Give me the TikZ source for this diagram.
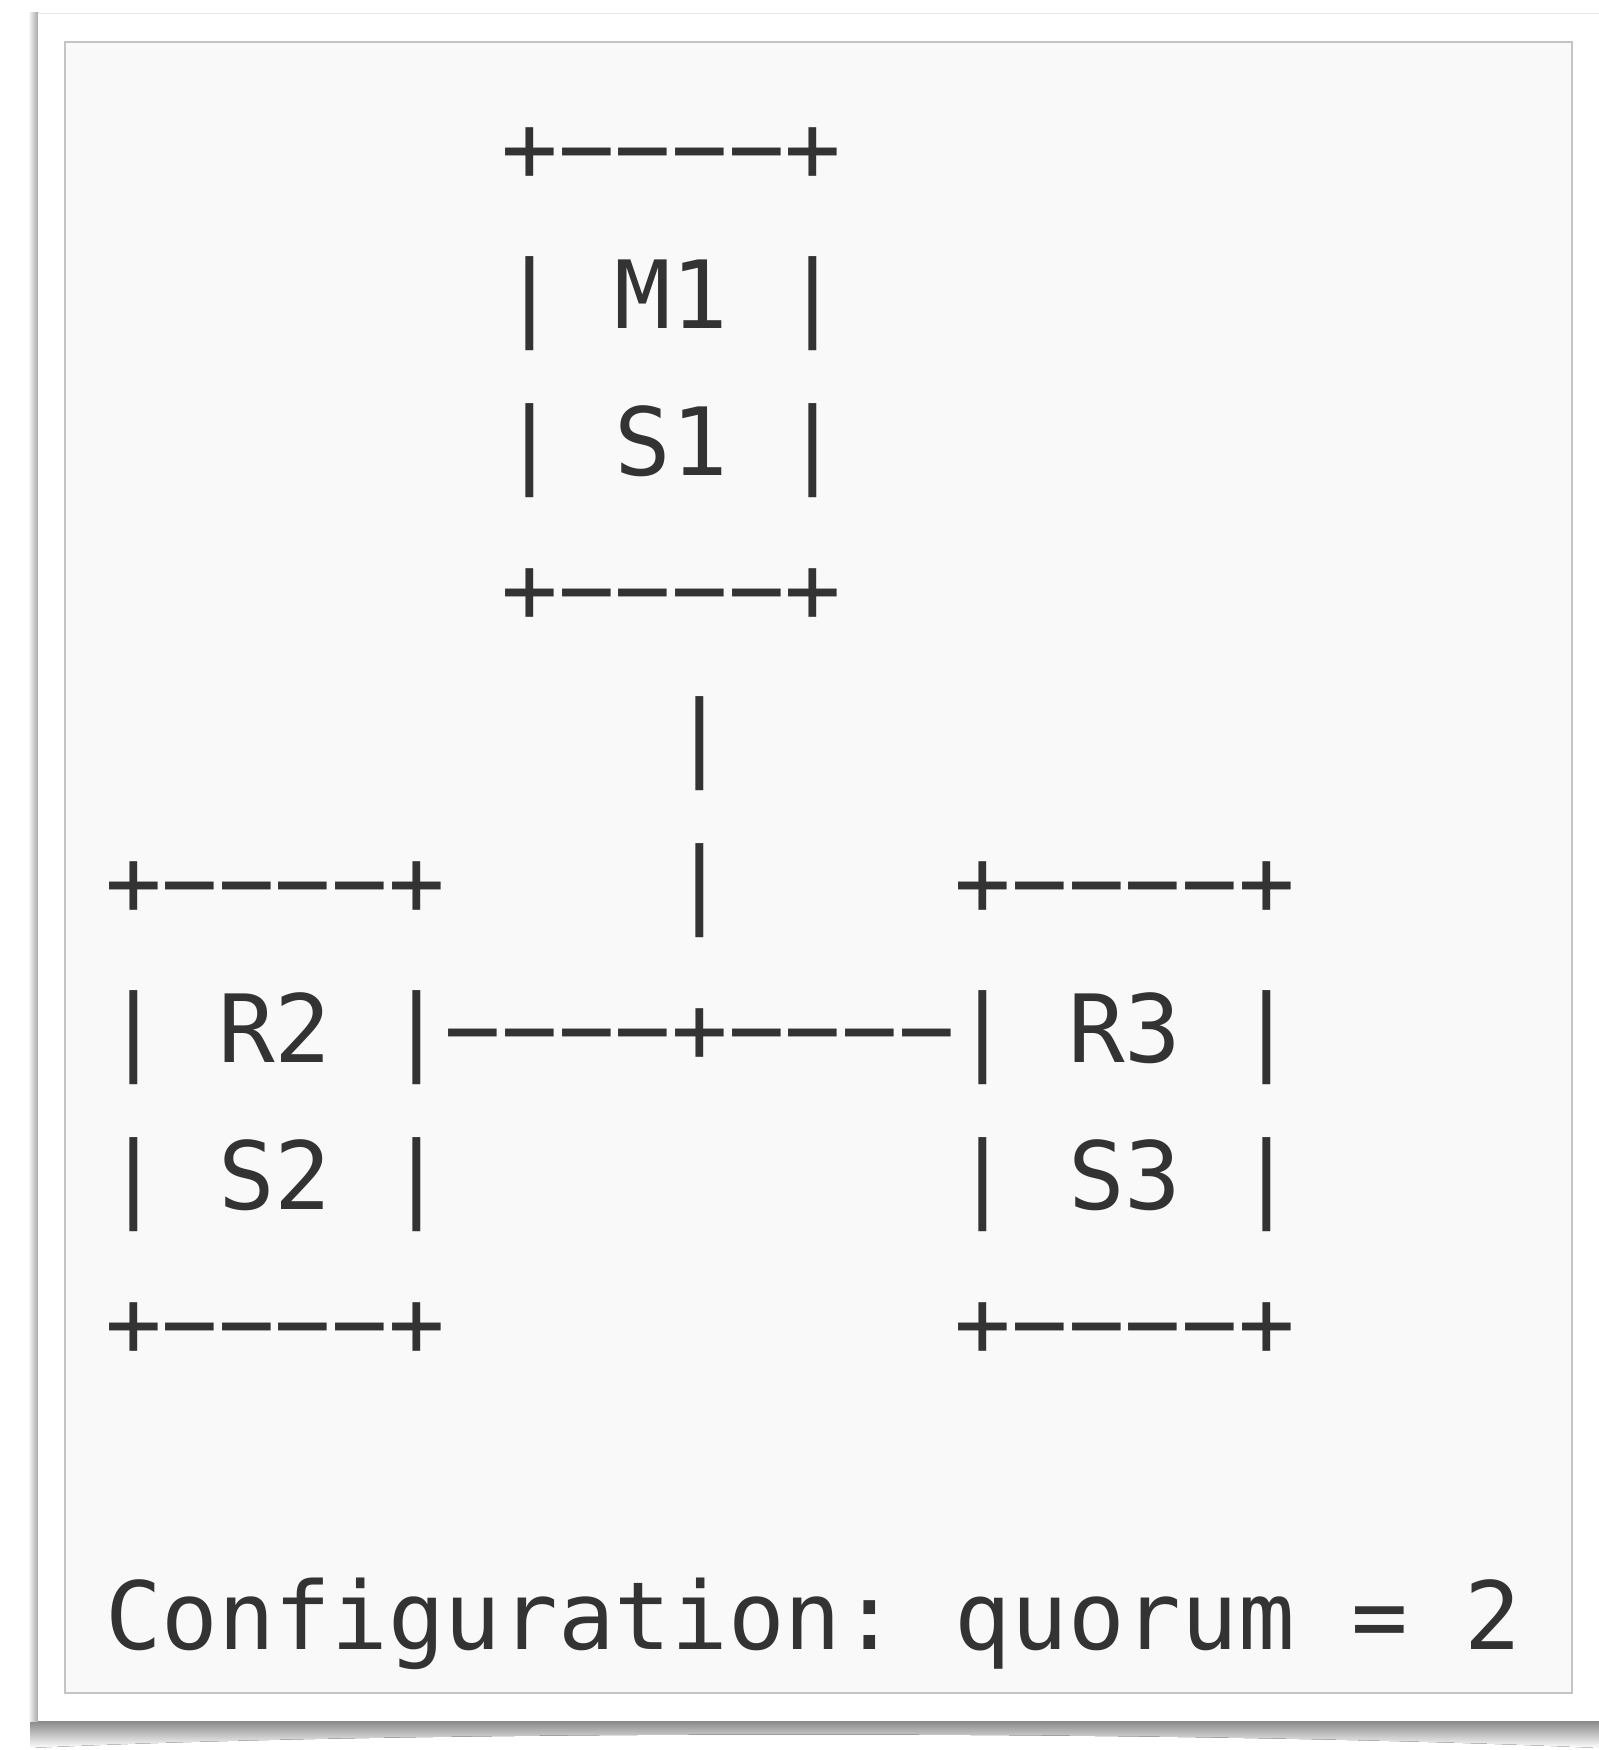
\documentclass[tikz,border=0pt]{standalone}
\usepackage{fontspec}
\setmonofont{DejaVu Sans Mono}
\usepackage{xcolor}
\definecolor{ink}{HTML}{333333}
\definecolor{panel}{HTML}{F9F9F9}
\definecolor{rim}{HTML}{C4C4C4}

\begin{document}
\begin{tikzpicture}[x=0.5pt, y=-0.5pt]
    \tikzstyle{ascii} = [inner sep = 0pt, outer sep = 0pt, anchor = base west, text = ink, font = \ttfamily\fontsize{47.06}{73.4}\selectfont]
    \tikzstyle{card}  = [fill = white]
    \tikzstyle{sheet} = [fill = panel, draw = rim, line width = 1pt]

    \useasboundingbox (0,0) rectangle (1599,1750);
    % Draw the card with its shadow
    \fill[top color = black!55, bottom color = white] (30,1716) -- (1599,1716) -- (1599,1748) .. controls (1200,1730) and (400,1730) .. (30,1748) -- cycle;
    \fill[left color = white, right color = black!35] (28,13) rectangle (38,1721);
    \fill[card] (38,13) rectangle (1599,1721);
    \draw[black!8] (38,13) -- (1599,13);
    \draw[sheet] (65,42) rectangle (1572,1693);

    \begin{scope}[shift = {(105,181.6)}, x = 28.33pt, y = -73.4pt]
    \node[ascii] (M1top) at (7,0) {+−−−−+};
    \node[ascii] (M1mid) at (7,1) {| M1 |};
    \node[ascii] (S1mid) at (7,2) {| S1 |};
    \node[ascii] (M1bot) at (7,3) {+−−−−+};
    \node[ascii] (stemA) at (10,4) {|};
    \node[ascii] (stemB) at (10,5) {|};

    \node[ascii] (R2top) at (0,5) {+−−−−+};
    \node[ascii] (R2mid) at (0,6) {| R2 |};
    \node[ascii] (S2mid) at (0,7) {| S2 |};
    \node[ascii] (R2bot) at (0,8) {+−−−−+};

    \node[ascii] (link)  at (6,6) {−−−−+−−−−};

    \node[ascii] (R3top) at (15,5) {+−−−−+};
    \node[ascii] (R3mid) at (15,6) {| R3 |};
    \node[ascii] (S3mid) at (15,7) {| S3 |};
    \node[ascii] (R3bot) at (15,8) {+−−−−+};

    \node[ascii] (conf)  at (0,10) {Configuration: quorum = 2};
    \end{scope}
\end{tikzpicture}
\end{document}
